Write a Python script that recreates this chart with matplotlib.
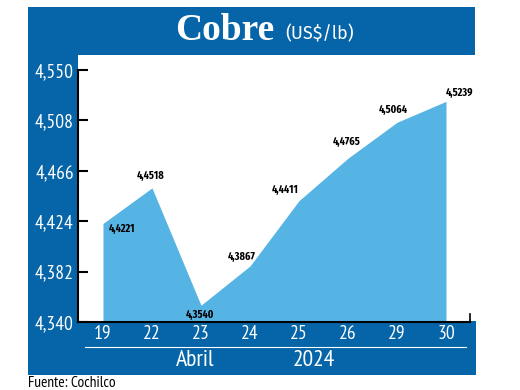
import matplotlib
matplotlib.use('Agg')
import matplotlib.pyplot as plt
from matplotlib.patches import Rectangle
from matplotlib.lines import Line2D

# ── Data ──────────────────────────────────────────────────────────────────────
days = ['19', '22', '23', '24', '25', '26', '29', '30']
price = [4.4221, 4.4518, 4.3540, 4.3867, 4.4411, 4.4765, 4.5064, 4.5239]
price_labels = ['4,4221', '4,4518', '4,3540', '4,3867', '4,4411', '4,4765', '4,5064', '4,5239']
y_ticks = [4.340, 4.382, 4.424, 4.466, 4.508, 4.550]
y_tick_labels = ['4,340', '4,382', '4,424', '4,466', '4,508', '4,550']

# label offsets (points) and alignment, per point
label_pos = [
    ((4, -4), 'left', 'center'),
    ((-1, 5), 'center', 'bottom'),
    ((-1, -3), 'center', 'top'),
    ((4, 3), 'right', 'bottom'),
    ((0, 4), 'right', 'bottom'),
    ((-1, 8), 'center', 'bottom'),
    ((-3, 5), 'center', 'bottom'),
    ((0, 2), 'left', 'bottom'),
]

BLUE = '#0565A8'
FILL = '#56B4E4'
NARROW = ['PT Sans Narrow', 'DejaVu Sans']
XCOND = ['Fira Sans Extra Condensed', 'DejaVu Sans']

W, H = 520, 390
fig = plt.figure(figsize=(W / 100, H / 100), dpi=100)


def box(x0, y0, x1, y1):
    """pixel box (top-left origin) -> figure coords rect"""
    return (x0 / W, 1 - y1 / H, (x1 - x0) / W, (y1 - y0) / H)


# ── Blue frame ────────────────────────────────────────────────────────────────
for (x0, y0, x1, y1) in [(28, 7, 475, 55), (28, 55, 78, 322), (28, 321, 476, 375)]:
    l, b, w, h = box(x0, y0, x1, y1)
    fig.patches.append(Rectangle((l, b), w, h, transform=fig.transFigure,
                                 facecolor=BLUE, edgecolor='none', zorder=-1))

fig.text(225 / W, 1 - 31 / H, 'Cobre', color='white', fontsize=27, fontweight='bold',
         family='Liberation Serif', ha='center', va='center')
fig.text(285 / W, 1 - 34 / H, '(US$/lb)', color='white', fontsize=13,
         family=['Fira Sans', 'DejaVu Sans'], ha='left', va='center')

# ── Axes ──────────────────────────────────────────────────────────────────────
l, b, w, h = box(78, 70, 470, 322)
ax = fig.add_axes([l, b, w, h])
ax.set_facecolor('white')
x = list(range(len(days)))
ax.fill_between(x, y_ticks[0], price, color=FILL, linewidth=0, zorder=1)
ax.set_xlim(-0.51, 7.49)
ax.set_ylim(4.340, 4.550)

ax.set_yticks(y_ticks)
ax.set_yticklabels(y_tick_labels)
ax.set_xticks(x)
ax.set_xticklabels(days)
ax.tick_params(axis='y', direction='in', length=7, width=1.5, pad=3,
               labelsize=14, labelcolor='white')
ax.tick_params(axis='x', length=0, pad=2, labelsize=14, labelcolor='white')
for lab in ax.get_xticklabels() + ax.get_yticklabels():
    lab.set_family(NARROW)

for side in ['top', 'right']:
    ax.spines[side].set_visible(False)
ax.spines['left'].set_linewidth(1.5)
ax.spines['bottom'].set_linewidth(1.5)
ax.plot([1, 1], [0, 0.03], transform=ax.transAxes, color='black', lw=1.2, clip_on=False)

for xi, yi, txt, (off, ha, va) in zip(x, price, price_labels, label_pos):
    ax.annotate(txt, (xi, yi), xytext=off, textcoords='offset points',
                ha=ha, va=va, fontsize=8, fontweight='bold', family=XCOND,
                color='black', zorder=3)

# ── Bottom band texts ─────────────────────────────────────────────────────────
fig.lines.append(Line2D([85 / W, 466 / W], [1 - 347 / H] * 2, transform=fig.transFigure,
                        color='white', lw=0.8))
fig.text(195 / W, 1 - 361 / H, 'Abril', color='white', fontsize=17, family=NARROW,
         ha='center', va='center')
fig.text(314 / W, 1 - 361 / H, '2024', color='white', fontsize=17, family=NARROW,
         ha='center', va='center')

fig.text(28 / W, 1 - 383 / H, 'Fuente: Cochilco', color='black', fontsize=11,
         family=NARROW, ha='left', va='center')

fig.savefig('out.png', dpi=100)
